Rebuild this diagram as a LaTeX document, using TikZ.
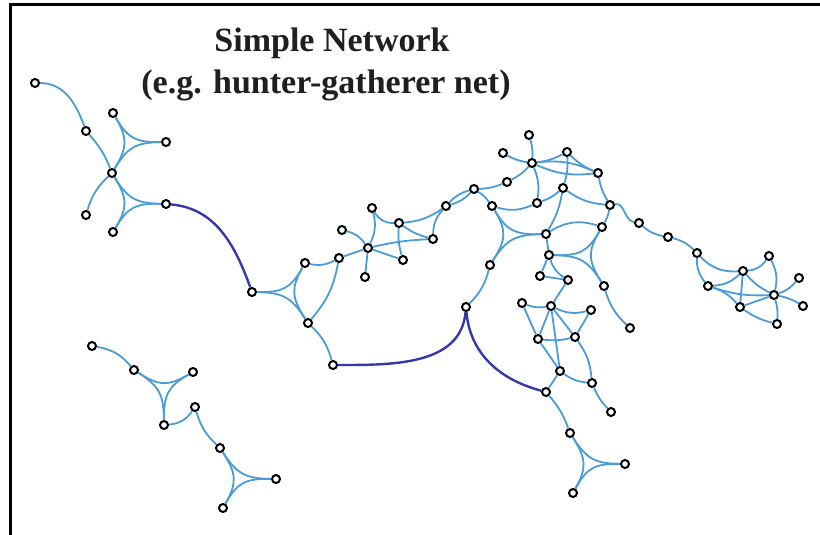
\documentclass[tikz,border=0pt]{standalone}
\usepackage{fontspec}
\setmainfont{Liberation Serif}
\usepackage{tikz}
\usetikzlibrary{calc}
\definecolor{netblue}{RGB}{74,155,214}
\definecolor{linkblue}{RGB}{52,56,168}
% concave triangle of three nodes, curves meet near the centre
\newcommand{\nettri}[3]{%
  \coordinate (#1#2#3) at ($(#1)!0.5!(#2)!1/3!(#3)$);
  \draw[net] (#1) .. controls ($(#1)!0.85!(#1#2#3)$) and ($(#2)!0.85!(#1#2#3)$) .. (#2);
  \draw[net] (#2) .. controls ($(#2)!0.85!(#1#2#3)$) and ($(#3)!0.85!(#1#2#3)$) .. (#3);
  \draw[net] (#3) .. controls ($(#3)!0.85!(#1#2#3)$) and ($(#1)!0.85!(#1#2#3)$) .. (#1);}

\begin{document}
\begin{tikzpicture}[x=1pt,y=-1pt,
    hn/.style={circle,draw=black,fill=white,line width=2pt,inner sep=0pt,minimum size=8pt},
    net/.style={draw=netblue,line width=1.8pt},
    link/.style={draw=linkblue,line width=2.4pt},
    title/.style={font=\fontsize{34}{40}\selectfont\bfseries,anchor=base,text=black!88},
  ]
  \useasboundingbox (0,0) rectangle (820,535);
  \draw[line width=3pt] (10.5,535) -- (10.5,5) -- (820,5);

  % Title
  \node[title] (t1) at (332,52) {Simple Network};
  \node[title] (t2) at (326,93) {(e.g. hunter-gatherer net)};

  % Nodes
  \foreach \n/\x/\y in {a1/35/83, a2/86/131, a3/113/113, a4/166/142, a0/112/173,
      a5/166/204, a6/86/215, a7/113/232,
      b0/252/292, b1/305/263, b2/339/258, b3/308/323, b4/333/365,
      c1/372/208, c2/342/230, c3/399/223, c4/368/248, c5/433/239, c6/403/260, c7/365/277,
      d1/446/206, d2/474/189, e0/466/307, e1/490/265,
      f1/529/135, f2/503/153, f3/567/152, f4/532/163, f5/598/173, f6/507/182,
      f7/563/188, f8/492/206, f9/537/203, f10/610/205, f11/602/227, f12/546/234,
      h1/549/255, h2/540/276, h3/568/280, h4/604/286, h5/522/303, h6/551/306,
      h7/591/310, h8/630/328,
      i1/538/339, i2/575/337, i3/560/371, i4/592/383, i5/611/412,
      j0/546/392, j1/570/433, j2/625/464, j3/573/493,
      g1/639/223, g2/668/237, g3/697/253,
      k1/769/256, k2/743/271, k3/799/278, k4/708/286, k5/774/295, k6/803/306,
      k7/740/307, k8/777/324,
      m1/92/346, m2/134/370, m3/193/372, m4/195/407, m5/164/425,
      m6/220/448, m7/276/479, m8/223/508}
    \node[hn] (\n) at (\x,\y) {};

  % Links
  \foreach \u/\v/\b in {a2/a0/10, a0/a6/-15,
      b1/b2/-20, b3/b2/-15, b3/b4/15, e0/e1/-15,
      b2/c4/0, c2/c4/20, c1/c4/20, c1/c3/-30, c3/c6/-10, c4/c6/0, c4/c7/0,
      c4/c5/5, c3/c5/-10, c3/d1/-15, c5/d1/20, d1/d2/15, d1/d2/-15, d2/f6/-10, d2/f8/10,
      f1/f4/10, f4/f3/-10, f2/f4/-10, f4/f5/15, f4/f5/-15, f3/f5/-10, f3/f7/10,
      f4/f9/15, f6/f4/-10, f7/f9/10, f7/f10/-15, f5/f10/-10, f8/f9/-20, f7/f12/10,
      f10/f11/10, f12/f11/25, f12/h1/0,
      h1/h2/0, h1/h3/-20, h2/h3/0, h3/h6/0, h5/h6/-15, h5/i1/0, h6/i1/0, h6/i3/0,
      h6/h7/-20, h7/i2/0, h6/i2/0, i1/i2/-10, i1/i3/0, i2/i4/15, i3/i4/-15,
      i3/j0/0, i4/i5/-10, j0/j1/10, h4/h8/-15,
      g1/g2/-15, g2/g3/15, g3/k4/-20, g3/k2/-25, k4/k2/-20, k2/k1/-25, k1/k5/20,
      k4/k5/-10, k4/k7/15, k7/k5/0, k2/k7/0, k2/k5/-10, k5/k3/-15, k5/k6/10,
      k5/k8/10, k7/k8/-10,
      m1/m2/20, m5/m4/-25, m4/m6/-15}
    \draw[net] (\u) to[bend left=\b] (\v);
  \draw[net] (a1) to[out=0,in=110] (a2);
  \draw[net] (f10) to[out=10,in=170] (g1);
  \nettri{a0}{a3}{a4}
  \nettri{a0}{a5}{a7}
  \nettri{b0}{b1}{b3}
  \nettri{e1}{f8}{f12}
  \nettri{h1}{f11}{h4}
  \nettri{j1}{j2}{j3}
  \nettri{m2}{m3}{m5}
  \nettri{m6}{m7}{m8}

  % Long-range ties
  \draw[link] (a5) to[out=-5,in=110] (b0);
  \draw[link] (b4) to[out=0,in=-95] (e0);
  \draw[link] (e0) to[out=-85,in=165] (j0);
\end{tikzpicture}
\end{document}
